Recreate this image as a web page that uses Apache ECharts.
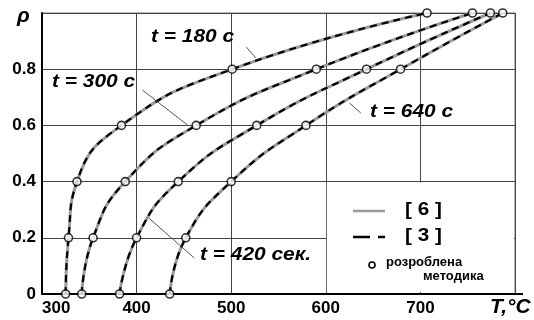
<!DOCTYPE html>
<html>
<head>
<meta charset="utf-8">
<script src="https://cdn.jsdelivr.net/npm/echarts@6/dist/echarts.min.js"></script>
<style>
  html, body { margin: 0; background: #fff; }
  #chart { width: 534px; height: 320px; }
</style>
</head>
<body>
<div id="chart"></div>
<script>
// ρ levels where the circles sit
var rhoLevels = [0, 0.2, 0.4, 0.6, 0.8, 1.0]
// T, °C at each ρ level
var t180 = [325, 328, 337, 384, 501, 707]
var t300 = [342, 354, 388, 463, 590, 755]
var t420 = [382, 400, 444, 527, 643, 774]
var t640 = [435, 452, 500, 579, 679, 787]
var curveLabels = ['t = 180 с', 't = 300 с', 't = 420 сек.', 't = 640 с']
var xTicks = [300, 400, 500, 600, 700]
var yTicks = [0, 0.2, 0.4, 0.6, 0.8]
// leader lines from label to curve, [T, ρ] pairs
var leader180 = [[516, 0.879], [526, 0.840]]
var leader300 = [[406, 0.726], [454, 0.601]]
var leader420 = [[413, 0.270], [461, 0.128]]
var leader640 = [[625, 0.680], [637, 0.644]]

var chart = echarts.init(document.getElementById('chart'))

function toPairs(temps) {
  return temps.map(function (t, i) { return [t, rhoLevels[i]] })
}

var curves = [t180, t300, t420, t640]
var series = []
var circles = []
curves.forEach(function (c) {
  var pts = toPairs(c)
  series.push({
    type: 'line', data: pts, smooth: 0.5, showSymbol: false, silent: true,
    lineStyle: { color: '#9a9a9a', width: 3 }, z: 3
  })
  series.push({
    type: 'line', data: pts, smooth: 0.5, showSymbol: false, silent: true,
    lineStyle: { color: '#000', width: 2.2, type: [7, 5] }, z: 4
  })
  circles = circles.concat(pts)
})
series.push({
  type: 'scatter', data: circles, symbol: 'circle', symbolSize: 8, clip: false, z: 5,
  itemStyle: { color: '#fff', borderColor: '#000', borderWidth: 1.6 }
})
series.push({
  type: 'line', data: [], silent: true,
  markLine: {
    silent: true, symbol: 'none', label: { show: false },
    lineStyle: { color: '#555', width: 1, type: 'solid' },
    data: [leader180, leader300, leader420, leader640].map(function (l) {
      return [{ coord: l[0] }, { coord: l[1] }]
    })
  }
})

var labelFont = 'bold italic 19px "Liberation Sans", Arial, sans-serif'
var option = {
  animation: false,
  grid: { left: 42, top: 13, right: 19, bottom: 26, show: true, borderColor: '#777', borderWidth: 1 },
  xAxis: {
    type: 'value', min: 300, max: 800, interval: 100,
    axisLine: { lineStyle: { color: '#000', width: 2 } },
    axisTick: { show: false },
    splitLine: { lineStyle: { color: '#444', width: 1 } },
    axisLabel: {
      margin: 6, alignMinLabel: 'left', color: '#000',
      fontFamily: '"Liberation Sans", Arial', fontWeight: 'bold', fontSize: 17,
      formatter: function (v) { return xTicks.indexOf(v) >= 0 ? String(v) : '' }
    }
  },
  yAxis: {
    type: 'value', min: 0, max: 1, interval: 0.2,
    axisLine: { show: true, lineStyle: { color: '#000', width: 2 } },
    axisTick: { show: false },
    splitLine: { lineStyle: { color: '#444', width: 1 } },
    axisLabel: {
      margin: 6, color: '#000',
      fontFamily: '"Liberation Sans", Arial', fontWeight: 'bold', fontSize: 17,
      formatter: function (v) {
        var r = Math.round(v * 10) / 10
        return yTicks.indexOf(r) >= 0 ? (r === 0 ? '0' : r.toFixed(1)) : ''
      }
    }
  },
  series: series
}
chart.setOption(option)

var p600 = chart.convertToPixel({ gridIndex: 0 }, [600, 0.4])
var pEnd = chart.convertToPixel({ gridIndex: 0 }, [800, 0])

chart.setOption({
  graphic: [
    // blank box under the legend, grid lines stop at its edges
    { type: 'rect', z: 1, silent: true,
      shape: { x: p600[0] + 1, y: p600[1] + 1, width: pEnd[0] - p600[0] - 2, height: pEnd[1] - p600[1] - 3 },
      style: { fill: '#fff' } },
    { type: 'line', z: 1, shape: { x1: pEnd[0], y1: pEnd[1], x2: pEnd[0] + 8, y2: pEnd[1] },
      style: { stroke: '#000', lineWidth: 2 } },
    // axis names
    { type: 'text', z: 6, left: 17, top: 6, style: { text: 'ρ', font: 'bold italic 21px "Liberation Sans", Arial', fill: '#000' } },
    { type: 'text', z: 6, left: 490, top: 297, style: { text: 'T,°C', font: 'bold italic 21px "Liberation Sans", Arial', fill: '#000' } },
    // curve labels
    { type: 'text', z: 6, x: 151, y: 27, scaleX: 1.1, style: { text: curveLabels[0], font: labelFont, fill: '#000' } },
    { type: 'text', z: 6, x: 52, y: 72, scaleX: 1.1, style: { text: curveLabels[1], font: labelFont, fill: '#000' } },
    { type: 'text', z: 6, x: 200, y: 245, scaleX: 1.1, style: { text: curveLabels[2], font: labelFont, fill: '#000' } },
    { type: 'text', z: 6, x: 370, y: 102, scaleX: 1.1, style: { text: curveLabels[3], font: labelFont, fill: '#000' } },
    // legend
    { type: 'line', z: 6, shape: { x1: 353, y1: 211, x2: 385, y2: 211 }, style: { stroke: '#9a9a9a', lineWidth: 2.5 } },
    { type: 'text', z: 6, x: 405, y: 201, scaleX: 1.15, style: { text: '[ 6 ]', font: 'bold 18px "Liberation Sans", Arial', fill: '#000' } },
    { type: 'line', z: 6, shape: { x1: 353, y1: 237, x2: 385, y2: 237 }, style: { stroke: '#000', lineWidth: 2.5, lineDash: [17, 8] } },
    { type: 'text', z: 6, x: 405, y: 227, scaleX: 1.15, style: { text: '[ 3 ]', font: 'bold 18px "Liberation Sans", Arial', fill: '#000' } },
    { type: 'circle', z: 6, shape: { cx: 372, cy: 265, r: 3 }, style: { fill: '#fff', stroke: '#000', lineWidth: 1.6 } },
    { type: 'text', z: 6, x: 386, y: 256, style: { text: 'розроблена', font: 'bold 13px "Liberation Sans", Arial', fill: '#000' } },
    { type: 'text', z: 6, x: 423, y: 270, style: { text: 'методика', font: 'bold 13px "Liberation Sans", Arial', fill: '#000' } }
  ]
})
</script>
</body>
</html>
